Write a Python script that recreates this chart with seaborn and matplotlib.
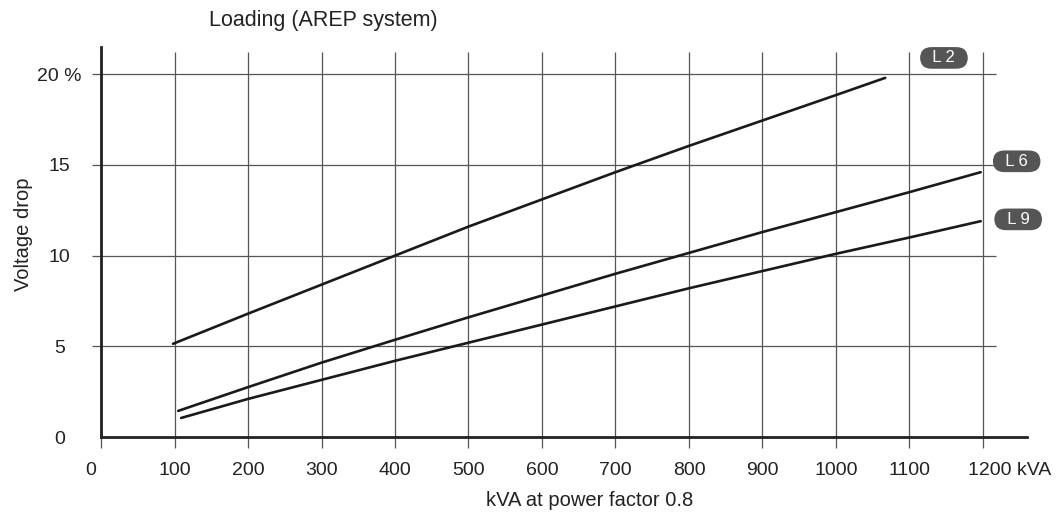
import pandas as pd
import matplotlib
matplotlib.use("Agg")
import matplotlib.pyplot as plt
import matplotlib.transforms as mtrans
import seaborn as sns

# kVA at power factor 0.8 vs voltage drop (%)
kva_l2 = [98, 200, 300, 400, 500, 600, 700, 800, 900, 1000, 1067]
drop_l2 = [5.14, 6.8, 8.4, 10.0, 11.6, 13.1, 14.6, 16.05, 17.45, 18.85, 19.8]

kva_l6 = [105, 200, 300, 400, 500, 600, 700, 800, 900, 1000, 1100, 1197]
drop_l6 = [1.44, 2.75, 4.1, 5.36, 6.6, 7.8, 9.0, 10.15, 11.3, 12.4, 13.5, 14.6]

kva_l9 = [109, 200, 300, 400, 500, 600, 700, 800, 900, 1000, 1100, 1197]
drop_l9 = [1.05, 2.1, 3.15, 4.2, 5.2, 6.2, 7.2, 8.2, 9.15, 10.1, 11.0, 11.9]

x_ticks = list(range(0, 1300, 100))
x_labels = [str(v) for v in x_ticks[:-1]] + ["1200 kVA"]
y_ticks = [0, 5, 10, 15, 20]
y_labels = ["0", "5", "10", "15", "20 %"]

df = pd.concat([
    pd.DataFrame({"kva": kva_l2, "drop": drop_l2, "curve": "L 2"}),
    pd.DataFrame({"kva": kva_l6, "drop": drop_l6, "curve": "L 6"}),
    pd.DataFrame({"kva": kva_l9, "drop": drop_l9, "curve": "L 9"}),
])

sns.set_style("white")
plt.rcParams["font.family"] = ["Liberation Sans", "DejaVu Sans"]

fig = plt.figure(figsize=(10.57, 5.22), dpi=100)
ax = fig.add_axes([0.0956, 0.1628, 0.876, 0.7471])

txt = "#222222"
grid_col = "#555555"
# grid lines (extend past the axes like in the original)
ax.vlines(x_ticks, -0.6, 21.2, color=grid_col, lw=0.9, clip_on=False, zorder=1)
ax.hlines(y_ticks[1:], -12, 1218, color=grid_col, lw=0.9, clip_on=False, zorder=1)

sns.lineplot(data=df, x="kva", y="drop", hue="curve", units="curve", estimator=None,
             palette=["#1a1a1a"] * 3, lw=1.9, legend=False, ax=ax, zorder=3)

ax.set_xlim(0, 1260)
ax.set_ylim(0, 21.5)
ax.set_xticks(x_ticks)
ax.set_xticklabels(x_labels)
ax.set_yticks(y_ticks)
ax.set_yticklabels(y_labels, ha="center")
ax.tick_params(axis="both", length=0, labelsize=14, colors=txt)
ax.tick_params(axis="y", pad=30)
ax.tick_params(axis="x", pad=18)

# nudge first and last x labels like the original
labs = ax.get_xticklabels()
labs[0].set_transform(labs[0].get_transform() + mtrans.ScaledTranslation(-0.10, 0, fig.dpi_scale_trans))
labs[-1].set_transform(labs[-1].get_transform() + mtrans.ScaledTranslation(0.27, 0, fig.dpi_scale_trans))

for s in ["top", "right"]:
    ax.spines[s].set_visible(False)
for s in ["left", "bottom"]:
    ax.spines[s].set_linewidth(2.0)
    ax.spines[s].set_color(txt)
    ax.spines[s].set_zorder(4)

ax.set_xlabel("")
ax.set_ylabel("Voltage drop", fontsize=14.5, color=txt)
ax.yaxis.set_label_coords(-0.074, 0.52)
ax.text(0.528, -0.163, "kVA at power factor 0.8", transform=ax.transAxes,
        ha="center", va="center", fontsize=14.5, color=txt)
ax.text(0.24, 1.068, "Loading (AREP system)", transform=ax.transAxes,
        ha="center", va="center", fontsize=15.5, color=txt)

# curve tags
tags = {"L 2": (1147, 20.9), "L 6": (1246, 15.2), "L 9": (1248, 12.0)}
for name, (tx, ty) in tags.items():
    ax.text(tx, ty, "  " + name + "  ", ha="center", va="center", fontsize=12, color="white",
            clip_on=False, zorder=5,
            bbox=dict(boxstyle="round,pad=0.2,rounding_size=0.7", fc="#555555", ec="none"))

fig.savefig("out.png", dpi=100)
